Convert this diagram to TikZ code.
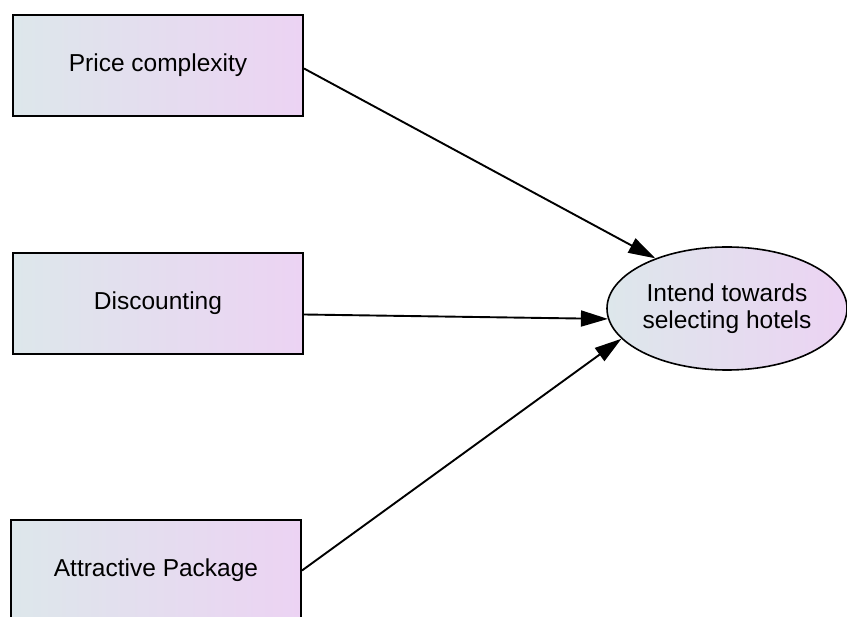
\documentclass[tikz,border=0pt]{standalone}
\usepackage{fontspec}
\setmainfont{Liberation Sans}
\usetikzlibrary{shapes.geometric, arrows.meta}
\definecolor{fillleft}{RGB}{221,231,235}
\definecolor{fillright}{RGB}{236,211,243}
\tikzset{
	->,
	>={Triangle[length=27pt,width=16pt]},
	x=1pt, y=-1pt,
	every node/.style={font=\fontsize{24.5}{27.5}\selectfont},
	construct/.style={rectangle, draw, line width=2pt, minimum width=290pt, minimum height=101pt, left color=fillleft, right color=fillright},
	target/.style={ellipse, draw, line width=1.6pt, minimum width=240pt, minimum height=123pt, inner sep=0pt, align=center, left color=fillleft, right color=fillright},
	link/.style={line width=1.9pt}}

\begin{document}
\begin{tikzpicture}
		\useasboundingbox (0,0) rectangle (847,617);
		\node[construct] (price) at (158,65.5) {Price complexity};
		\node[construct] (disc) at (158,303.5) {Discounting};
		\node[construct] (pack) at (156,570.5) {Attractive Package};
		\node[target] (intent) at (727,308.5) {Intend towards\\selecting hotels};
		
		\draw[link] ([yshift=-3pt]price.east) -- (intent.145);
		\draw[link] ([yshift=-11pt]disc.east) -- (intent.185);
		\draw[link] (pack.east) -- (intent.196);
	\end{tikzpicture}
\end{document}
